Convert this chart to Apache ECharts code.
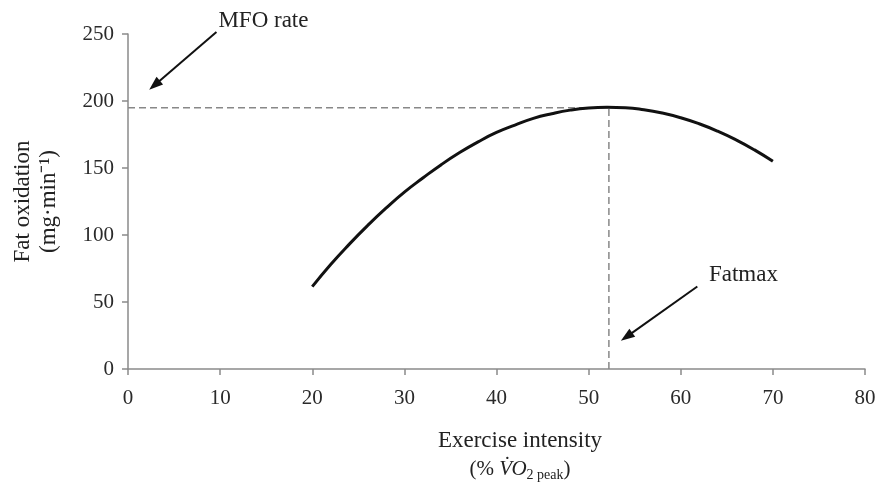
<!DOCTYPE html>
<html>
<head>
<meta charset="utf-8">
<script src="https://cdn.jsdelivr.net/npm/echarts@6/dist/echarts.min.js"></script>
<style>
html,body{margin:0;padding:0;background:#fff;}
#chart{width:877px;height:482px;}
</style>
</head>
<body>
<div id="chart"></div>
<script>
// Exercise intensity (% VO2 peak)
const intensity = [20,22,24,26,28,30,32,34,36,38,40,42,44,46,48,50,52,54,56,58,60,62,64,66,68,70];
// Fat oxidation (mg/min)
const fatOxidation = [61.5,78,93,107,120,132,142.5,152.5,161.5,169.5,176.5,182,187,190.5,193.2,194.8,195.3,195,193.5,191,187.5,183,177.5,171,163.5,155];
const xTicks = [0,10,20,30,40,50,60,70,80];
const yTicks = [0,50,100,150,200,250];
// Fatmax point (intensity, MFO rate)
const fatmax = [52.2, 195];
// annotation arrows: [x1, y1, x2, y2] (tail -> head)
const mfoArrow = [9.6, 251.5, 2.3, 208.4];
const fatmaxArrow = [61.8, 61.6, 53.5, 21.0];
// annotation labels: [x, y] centre of text
const annotationNames = ['MFO rate', 'Fatmax'];
const annotationPos = [[14.7, 260], [66.8, 70.5]];

const FONT = '"Liberation Serif", "Times New Roman", serif';
const chart = echarts.init(document.getElementById('chart'));
chart.setOption({
  animation:false,
  backgroundColor:'#fff',
  grid:{left:128,right:12,top:34,bottom:113,containLabel:false,outerBoundsMode:'none'},
  xAxis:{
    type:'value', min:0, max:80, interval:10,
    axisLine:{lineStyle:{color:'#8a8a8a',width:1.5}},
    axisTick:{show:true,length:6,lineStyle:{color:'#8a8a8a',width:1.5}},
    splitLine:{show:false},
    axisLabel:{fontFamily:FONT,fontSize:21,color:'#2a2a2a',margin:19},
    name:'{t|Exercise intensity}\n{a|(% }{i|V\u0307O}{s|2 peak}{a|)}',
    nameLocation:'middle', nameGap:56,
    nameTextStyle:{
      fontFamily:FONT, color:'#222', padding:[0,0,0,47],
      rich:{
        t:{fontFamily:FONT,fontSize:23,color:'#222',lineHeight:31},
        a:{fontFamily:FONT,fontSize:21,color:'#222',lineHeight:26},
        i:{fontFamily:FONT,fontSize:21,fontStyle:'italic',color:'#222',lineHeight:26},
        s:{fontFamily:FONT,fontSize:14,color:'#222',lineHeight:26,verticalAlign:'bottom',padding:[8,0,0,0]}
      }
    }
  },
  yAxis:{
    type:'value', min:0, max:250, interval:50,
    axisLine:{show:true,lineStyle:{color:'#8a8a8a',width:1.5}},
    axisTick:{show:true,length:6,lineStyle:{color:'#8a8a8a',width:1.5}},
    splitLine:{show:false},
    axisLabel:{fontFamily:FONT,fontSize:21,color:'#2a2a2a',margin:14},
    name:'Fat oxidation\n(mg\u00b7min\u207b\u00b9)',
    nameLocation:'middle', nameRotate:90, nameGap:66,
    nameTextStyle:{fontFamily:FONT,fontSize:23,color:'#222',lineHeight:26}
  },
  series:[
    {
      type:'line', name:'ref-h', silent:true, symbol:'none', clip:false,
      data:[[0,fatmax[1]],[fatmax[0],fatmax[1]]],
      lineStyle:{color:'#888',width:1.5,type:[7,4]}, z:1
    },
    {
      type:'line', name:'ref-v', silent:true, symbol:'none', clip:false,
      data:[[fatmax[0],0],[fatmax[0],fatmax[1]]],
      lineStyle:{color:'#888',width:1.5,type:[7,4]}, z:1
    },
    {
      type:'line', name:'fat', smooth:true, symbol:'none', clip:false,
      data:intensity.map((x,i)=>[x,fatOxidation[i]]),
      lineStyle:{color:'#111',width:3}, z:3
    },
    {
      type:'custom', name:'arrows', coordinateSystem:'cartesian2d', clip:false, silent:true, z:4,
      data:[mfoArrow, fatmaxArrow],
      encode:{x:[0,2], y:[1,3]},
      renderItem:function(params, api){
        const p1 = api.coord([api.value(0), api.value(1)]);
        const p2 = api.coord([api.value(2), api.value(3)]);
        const ang = Math.atan2(p2[1]-p1[1], p2[0]-p1[0]);
        const L = 14, W = 5;
        const bx = p2[0]-L*Math.cos(ang), by = p2[1]-L*Math.sin(ang);
        const nx = -Math.sin(ang), ny = Math.cos(ang);
        return {type:'group', children:[
          {type:'line', shape:{x1:p1[0],y1:p1[1],x2:bx+2*Math.cos(ang),y2:by+2*Math.sin(ang)}, style:{stroke:'#111',lineWidth:2}},
          {type:'polygon', shape:{points:[[p2[0],p2[1]],[bx+nx*W,by+ny*W],[bx-nx*W,by-ny*W]]}, style:{fill:'#111'}}
        ]};
      }
    },
    {
      type:'custom', name:'labels', coordinateSystem:'cartesian2d', clip:false, silent:true, z:4,
      data:annotationPos.map((p,i)=>[p[0], p[1], i]),
      renderItem:function(params, api){
        const p = api.coord([api.value(0), api.value(1)]);
        return {type:'text', x:p[0], y:p[1], style:{
          text:annotationNames[api.value(2)], fontFamily:FONT, fontSize:23,
          fill:'#222', align:'center', verticalAlign:'middle'
        }};
      }
    }
  ]
});
</script>
</body>
</html>
